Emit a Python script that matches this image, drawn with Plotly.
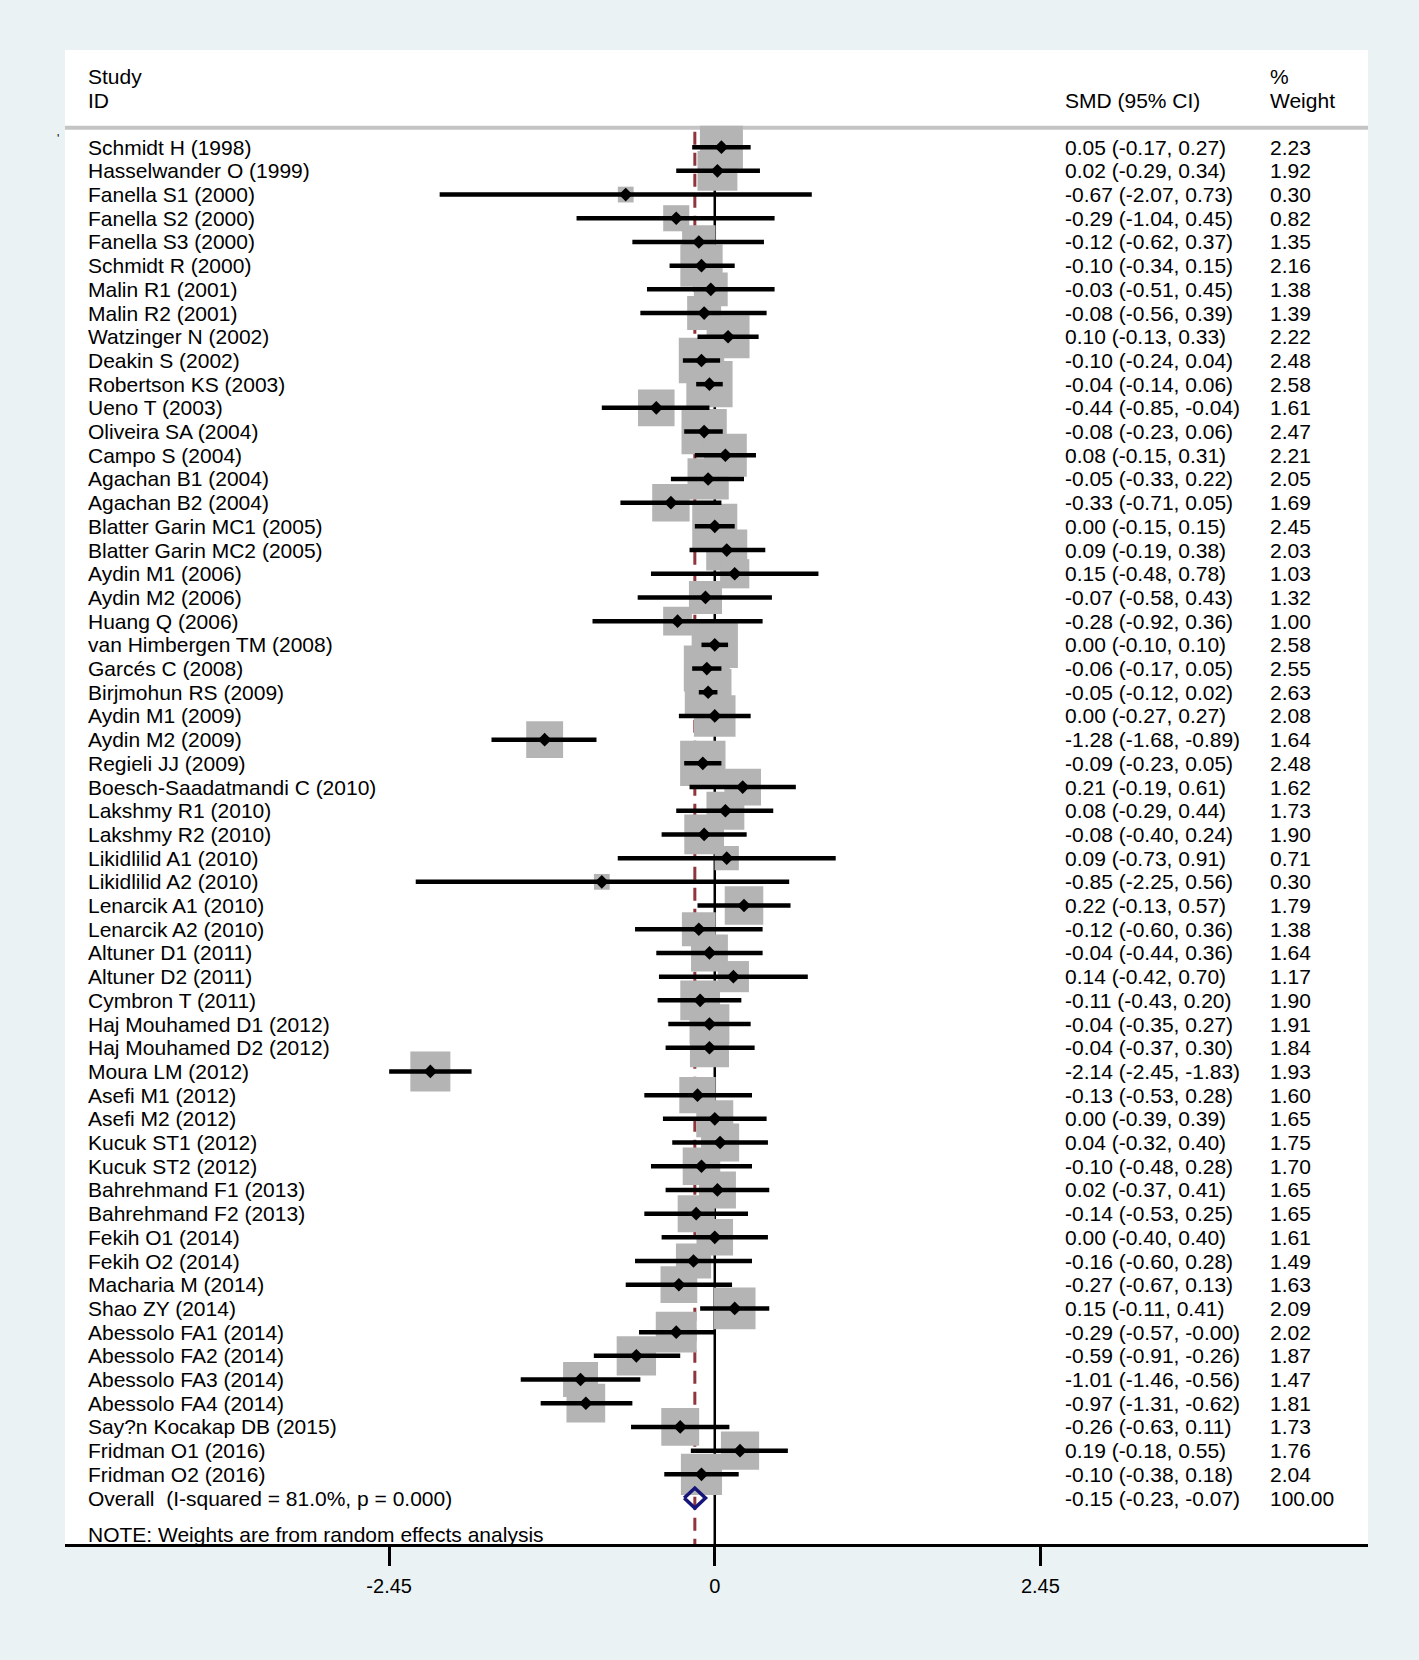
import plotly.graph_objects as go

# study rows of the forest plot (top to bottom)
studies = [
    "Schmidt H (1998)", "Hasselwander O (1999)", "Fanella S1 (2000)", "Fanella S2 (2000)",
    "Fanella S3 (2000)", "Schmidt R (2000)", "Malin R1 (2001)", "Malin R2 (2001)",
    "Watzinger N (2002)", "Deakin S (2002)", "Robertson KS (2003)", "Ueno T (2003)",
    "Oliveira SA (2004)", "Campo S (2004)", "Agachan B1 (2004)", "Agachan B2 (2004)",
    "Blatter Garin MC1 (2005)", "Blatter Garin MC2 (2005)", "Aydin M1 (2006)", "Aydin M2 (2006)",
    "Huang Q (2006)", "van Himbergen TM (2008)", "Garcés C (2008)", "Birjmohun RS (2009)",
    "Aydin M1 (2009)", "Aydin M2 (2009)", "Regieli JJ (2009)", "Boesch-Saadatmandi C (2010)",
    "Lakshmy R1 (2010)", "Lakshmy R2 (2010)", "Likidlilid A1 (2010)", "Likidlilid A2 (2010)",
    "Lenarcik A1 (2010)", "Lenarcik A2 (2010)", "Altuner D1 (2011)", "Altuner D2 (2011)",
    "Cymbron T (2011)", "Haj Mouhamed D1 (2012)", "Haj Mouhamed D2 (2012)", "Moura LM (2012)",
    "Asefi M1 (2012)", "Asefi M2 (2012)", "Kucuk ST1 (2012)", "Kucuk ST2 (2012)",
    "Bahrehmand F1 (2013)", "Bahrehmand F2 (2013)", "Fekih O1 (2014)", "Fekih O2 (2014)",
    "Macharia M (2014)", "Shao ZY (2014)", "Abessolo FA1 (2014)", "Abessolo FA2 (2014)",
    "Abessolo FA3 (2014)", "Abessolo FA4 (2014)", "Say?n Kocakap DB (2015)", "Fridman O1 (2016)",
    "Fridman O2 (2016)",
]
smd = [0.05, 0.02, -0.67, -0.29, -0.12, -0.10, -0.03, -0.08, 0.10, -0.10, -0.04, -0.44,
       -0.08, 0.08, -0.05, -0.33, 0.00, 0.09, 0.15, -0.07, -0.28, 0.00, -0.06, -0.05,
       0.00, -1.28, -0.09, 0.21, 0.08, -0.08, 0.09, -0.85, 0.22, -0.12, -0.04, 0.14,
       -0.11, -0.04, -0.04, -2.14, -0.13, 0.00, 0.04, -0.10, 0.02, -0.14, 0.00, -0.16,
       -0.27, 0.15, -0.29, -0.59, -1.01, -0.97, -0.26, 0.19, -0.10]
ci_low = [-0.17, -0.29, -2.07, -1.04, -0.62, -0.34, -0.51, -0.56, -0.13, -0.24, -0.14, -0.85,
          -0.23, -0.15, -0.33, -0.71, -0.15, -0.19, -0.48, -0.58, -0.92, -0.10, -0.17, -0.12,
          -0.27, -1.68, -0.23, -0.19, -0.29, -0.40, -0.73, -2.25, -0.13, -0.60, -0.44, -0.42,
          -0.43, -0.35, -0.37, -2.45, -0.53, -0.39, -0.32, -0.48, -0.37, -0.53, -0.40, -0.60,
          -0.67, -0.11, -0.57, -0.91, -1.46, -1.31, -0.63, -0.18, -0.38]
ci_high = [0.27, 0.34, 0.73, 0.45, 0.37, 0.15, 0.45, 0.39, 0.33, 0.04, 0.06, -0.04,
           0.06, 0.31, 0.22, 0.05, 0.15, 0.38, 0.78, 0.43, 0.36, 0.10, 0.05, 0.02,
           0.27, -0.89, 0.05, 0.61, 0.44, 0.24, 0.91, 0.56, 0.57, 0.36, 0.36, 0.70,
           0.20, 0.27, 0.30, -1.83, 0.28, 0.39, 0.40, 0.28, 0.41, 0.25, 0.40, 0.28,
           0.13, 0.41, -0.003, -0.26, -0.56, -0.62, 0.11, 0.55, 0.18]
weight = [2.23, 1.92, 0.30, 0.82, 1.35, 2.16, 1.38, 1.39, 2.22, 2.48, 2.58, 1.61,
          2.47, 2.21, 2.05, 1.69, 2.45, 2.03, 1.03, 1.32, 1.00, 2.58, 2.55, 2.63,
          2.08, 1.64, 2.48, 1.62, 1.73, 1.90, 0.71, 0.30, 1.79, 1.38, 1.64, 1.17,
          1.90, 1.91, 1.84, 1.93, 1.60, 1.65, 1.75, 1.70, 1.65, 1.65, 1.61, 1.49,
          1.63, 2.09, 2.02, 1.87, 1.47, 1.81, 1.73, 1.76, 2.04]

overall_label = "Overall  (I-squared = 81.0%, p = 0.000)"
overall_est, overall_low, overall_high, overall_weight = -0.15, -0.23, -0.07, 100.00
tick_vals = [-2.45, 0, 2.45]
tick_text = ["-2.45", "0", "2.45"]

FONT = "Liberation Sans, Arial, Helvetica, sans-serif"
BG = "#eaf2f3"
rows = list(range(len(studies)))
overall_row = len(studies)


def fmt(v):
    return f"{v:.2f}"


fig = go.Figure()

# weight boxes (area ~ weight)
fig.add_trace(go.Scatter(
    x=smd, y=rows, mode="markers", hoverinfo="skip",
    marker=dict(symbol="square", size=[28.8 * w ** 0.5 for w in weight],
                color="#b4b4b4", opacity=1, line=dict(width=0)),
))

# confidence intervals
ci_x, ci_y = [], []
for lo, hi, r in zip(ci_low, ci_high, rows):
    ci_x += [lo, hi, None]
    ci_y += [r, r, None]
fig.add_trace(go.Scatter(x=ci_x, y=ci_y, mode="lines", hoverinfo="skip",
                         line=dict(color="black", width=4.5)))

# point estimates
fig.add_trace(go.Scatter(x=smd, y=rows, mode="markers", hoverinfo="skip",
                         marker=dict(symbol="diamond", size=10.5, color="black", opacity=1)))

# overall diamond
h = 0.42
fig.add_trace(go.Scatter(
    x=[overall_low, overall_est, overall_high, overall_est, overall_low],
    y=[overall_row, overall_row - h, overall_row, overall_row + h, overall_row],
    mode="lines", hoverinfo="skip", line=dict(color="#15157a", width=3.5),
))

y_top, y_bot = -4.10, 58.94
shapes = [
    # null line
    dict(type="line", xref="x", yref="y", x0=0, x1=0, y0=-0.65, y1=y_bot,
         line=dict(color="black", width=2.5), layer="below"),
    # overall effect line
    dict(type="line", xref="x", yref="y", x0=overall_est, x1=overall_est, y0=-0.65, y1=y_bot,
         line=dict(color="#90353b", width=3, dash="13px,8px"), layer="below"),
    # header separator
    dict(type="line", xref="paper", yref="y", x0=0, x1=1, y0=-0.82, y1=-0.82,
         line=dict(color="#c4c4c4", width=4), layer="below"),
]

X_ID, X_CI, X_W = 0.0161, 0.7662, 0.9232
tf = dict(family=FONT, size=21, color="black")
ann = []


def txt(x, y, s):
    ann.append(dict(xref="paper", yref="y", x=x, y=y, text=s, showarrow=False,
                    xanchor="left", yanchor="middle", font=tf))


txt(X_ID, -3.0, "Study")
txt(X_ID, -1.97, "ID")
txt(X_CI, -1.97, "SMD (95% CI)")
txt(X_W, -3.0, "%")
txt(X_W, -1.97, "Weight")

for r, name, e, lo, hi, w in zip(rows, studies, smd, ci_low, ci_high, weight):
    txt(X_ID, r, name)
    txt(X_CI, r, f"{fmt(e)} ({fmt(lo)}, {fmt(hi)})")
    txt(X_W, r, fmt(w))

txt(X_ID, overall_row, overall_label)
txt(X_CI, overall_row, f"{fmt(overall_est)} ({fmt(overall_low)}, {fmt(overall_high)})")
txt(X_W, overall_row, fmt(overall_weight))
txt(X_ID, 58.54, "NOTE: Weights are from random effects analysis")

ann.append(dict(xref="paper", yref="y", x=-0.0075, y=-0.35, text="'", showarrow=False,
                font=dict(family=FONT, size=12, color="black")))

fig.update_layout(
    width=1419, height=1660,
    margin=dict(l=65, r=51, t=50, b=116),
    paper_bgcolor=BG, plot_bgcolor="white",
    showlegend=False,
    shapes=shapes, annotations=ann,
    font=dict(family=FONT, size=21, color="black"),
    xaxis=dict(range=[-4.889, 4.915], showgrid=False, zeroline=False,
               showline=True, linecolor="black", linewidth=3,
               ticks="outside", ticklen=19, tickwidth=2.5, tickcolor="black",
               tickvals=tick_vals, ticktext=tick_text, ticklabelstandoff=3,
               tickfont=dict(family=FONT, size=20, color="black")),
    yaxis=dict(range=[y_bot, y_top], visible=False, showgrid=False, zeroline=False),
)

fig.write_html("out.html", config={"displayModeBar": False},
               post_script="document.body.style.margin='0';"
                           "document.body.style.background='%s';" % BG)
